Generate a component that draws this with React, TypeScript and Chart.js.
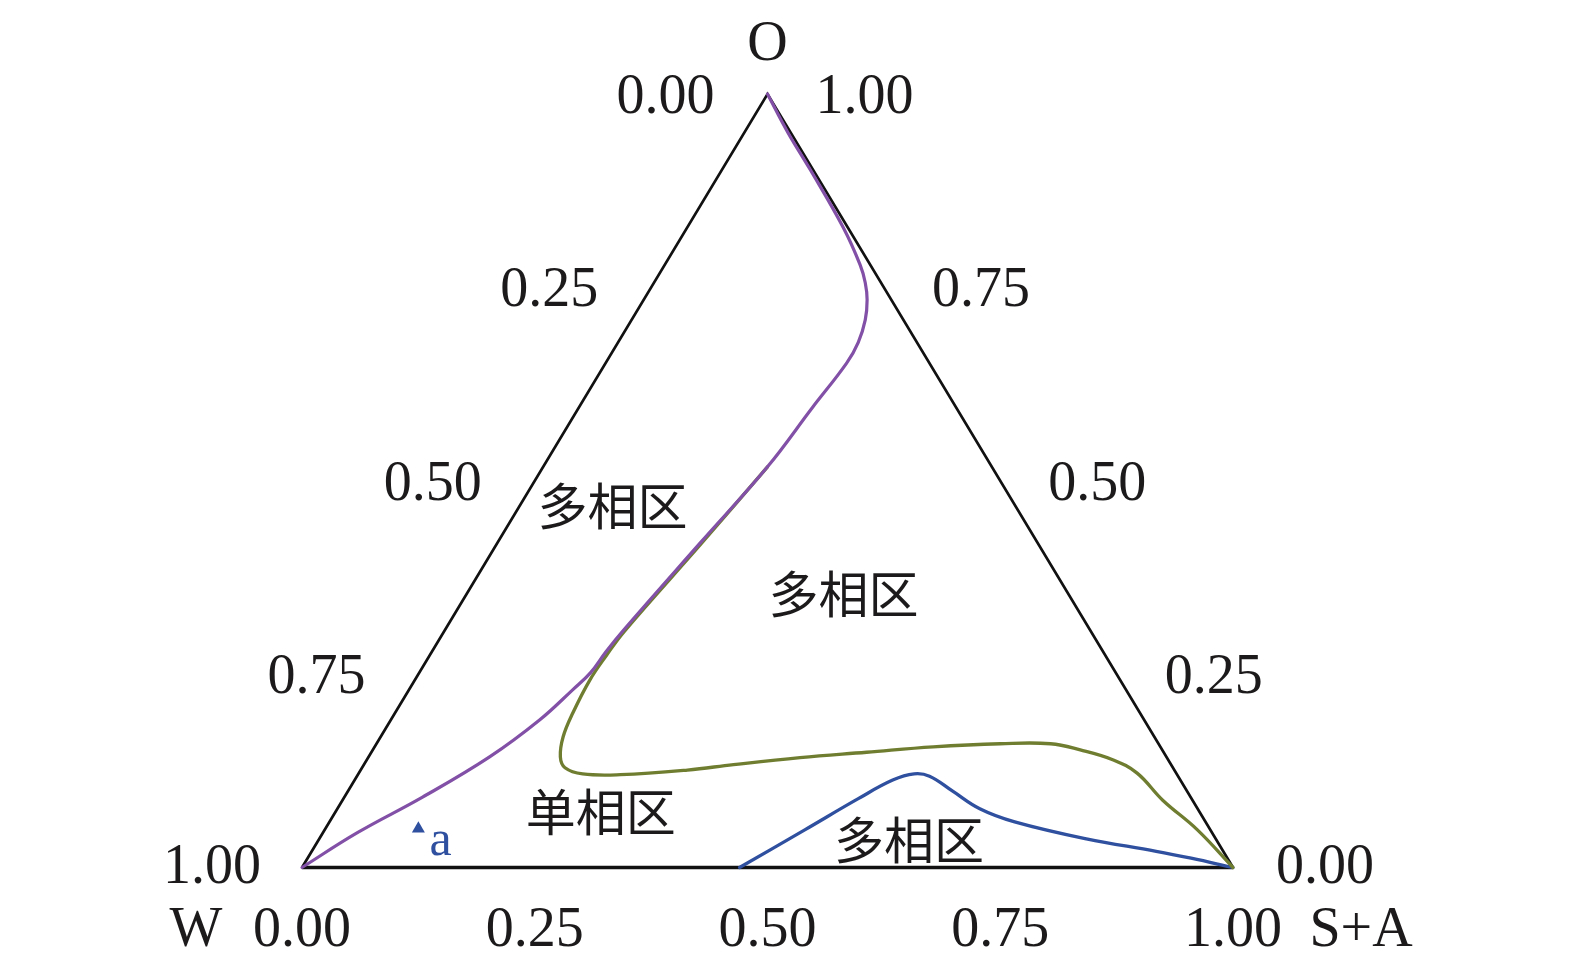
import React, { useEffect, useRef } from 'react';
import { Chart, registerables } from 'chart.js';

Chart.register(...registerables);

// Ternary axis ticks
const tickValues = [0, 0.25, 0.5, 0.75, 1];
const tickLabels = ['0.00', '0.25', '0.50', '0.75', '1.00'];
const vertexLabels = ['W', 'S+A', 'O'];

// Purple boundary (S+A fraction, O fraction), from W corner to O corner
const purpleSA = [0, 0.037, 0.084, 0.13, 0.16, 0.176, 0.184, 0.187, 0.192, 0.218, 0.241, 0.251, 0.259, 0.258, 0.251, 0.24, 0.227, 0.21, 0.168, 0.095, 0.047, 0];
const purpleO = [0, 0.045, 0.091, 0.143, 0.191, 0.23, 0.252, 0.279, 0.307, 0.42, 0.518, 0.595, 0.652, 0.679, 0.708, 0.734, 0.756, 0.779, 0.827, 0.902, 0.95, 1];

// Olive boundary, from S+A corner
const oliveSA = [1, 0.937, 0.881, 0.836, 0.802, 0.76, 0.724, 0.67, 0.6, 0.532, 0.464, 0.397, 0.351, 0.282, 0.241, 0.218, 0.206, 0.196, 0.191, 0.188, 0.19, 0.1935, 0.2195, 0.241];
const oliveO = [0, 0.049, 0.087, 0.122, 0.139, 0.152, 0.16, 0.16, 0.156, 0.149, 0.142, 0.133, 0.126, 0.12, 0.121, 0.129, 0.143, 0.169, 0.2, 0.242, 0.275, 0.305, 0.4185, 0.518];

// Blue boundary, from base to S+A corner
const blueSA = [0.47, 0.516, 0.553, 0.578, 0.597, 0.615, 0.649, 0.69, 0.736, 0.824, 0.907, 0.949, 1];
const blueO = [0, 0.049, 0.089, 0.113, 0.121, 0.118, 0.099, 0.076, 0.059, 0.037, 0.021, 0.012, 0];

// Sample point a
const pointSA = [0.1];
const pointO = [0.05];
const pointNames = ['a'];

// Region labels
const regionNames = ['多相区', '多相区', '单相区', '多相区'];
const regionSA = [0.1, 0.405, 0.285, 0.634];
const regionO = [0.467, 0.353, 0.072, 0.036];

const toXY = (s: number, o: number) => ({ x: s + o / 2, y: o });
const series = (sa: number[], o: number[]) => sa.map((s, i) => toXY(s, o[i]));

const labelPlugin = {
  id: 'ternaryLabels',
  afterDatasetsDraw(chart: any) {
    const { ctx } = chart;
    const xs = chart.scales.x;
    const ys = chart.scales.y;
    const px = (s: number, o: number) => [xs.getPixelForValue(s + o / 2), ys.getPixelForValue(o)];
    ctx.save();
    ctx.fillStyle = '#1c1a1b';
    ctx.font = '56px "Liberation Serif", "Times New Roman", serif';
    ctx.textAlign = 'center';
    ctx.textBaseline = 'alphabetic';
    const dy = 19;
    tickValues.forEach((v, i) => {
      const [bx, by] = px(v, 0);
      ctx.fillText(tickLabels[i], bx, by + 59 + dy);
      const [lx, ly] = px(0, 1 - v);
      ctx.fillText(tickLabels[i], lx - (v === 1 ? 90 : 102), ly + (v === 1 ? -4 : 0) + dy);
      const [rx, ry] = px(1 - v, v);
      ctx.fillText(tickLabels[i], rx + (v === 0 ? 92 : 97), ry + (v === 0 ? -4 : 0) + dy);
    });
    const [wx, wy] = px(0, 0);
    ctx.fillText(vertexLabels[0], wx - 106, wy + 59 + dy);
    const [sx, sy] = px(1, 0);
    ctx.fillText(vertexLabels[1], sx + 128, sy + 59 + dy);
    const [ox, oy] = px(0, 1);
    ctx.fillText(vertexLabels[2], ox, oy - 53 + dy);

    ctx.font = '50px "Noto Sans CJK SC", sans-serif';
    ctx.textBaseline = 'middle';
    regionNames.forEach((t, i) => {
      const [rx, ry] = px(regionSA[i], regionO[i]);
      ctx.fillText(t, rx, ry);
    });

    ctx.fillStyle = '#2f4f9f';
    ctx.font = '50px "Liberation Serif", "Times New Roman", serif';
    ctx.textAlign = 'left';
    ctx.textBaseline = 'alphabetic';
    pointNames.forEach((t, i) => {
      const [ax, ay] = px(pointSA[i], pointO[i]);
      ctx.fillText(t, ax + 11, ay + 26);
    });
    ctx.restore();
  },
};

export default function App() {
  const canvasRef = useRef<HTMLCanvasElement | null>(null);

  useEffect(() => {
    if (!canvasRef.current) return;
    const lineDs = (label: string, data: any[], color: string, width: number, tension: number) => ({
      label,
      data,
      showLine: true,
      borderColor: color,
      backgroundColor: color,
      borderWidth: width,
      pointRadius: 0,
      tension,
      fill: false,
      borderCapStyle: 'round' as const,
      borderJoinStyle: 'round' as const,
      clip: false as const,
    });
    const chart = new Chart(canvasRef.current, {
      type: 'scatter',
      data: {
        datasets: [
          {
            label: 'a',
            data: series(pointSA, pointO),
            pointStyle: 'triangle',
            pointRadius: 7.5,
            backgroundColor: '#2f4f9f',
            borderColor: '#2f4f9f',
            borderWidth: 0,
            showLine: false,
            clip: false as const,
          },
          lineDs('purple', series(purpleSA, purpleO), '#8250a6', 3.2, 0.4),
          lineDs('olive', series(oliveSA, oliveO), '#6f7d30', 3.3, 0.4),
          lineDs('blue', series(blueSA, blueO), '#2f4f9f', 3.3, 0.4),
          { ...lineDs('base', series([0, 1], [0, 0]), '#111111', 3.4, 0), borderCapStyle: 'butt' as const },
          { ...lineDs('sides', series([0, 0, 1], [0, 1, 0]), '#111111', 2.7, 0), borderCapStyle: 'butt' as const, borderJoinStyle: 'miter' as const },
        ],
      },
      options: {
        animation: false,
        responsive: true,
        maintainAspectRatio: false,
        layout: { padding: { left: 302, right: 342, top: 94, bottom: 106.5 } },
        scales: {
          x: { type: 'linear', min: 0, max: 1, display: false },
          y: { type: 'linear', min: 0, max: 1, display: false },
        },
        plugins: {
          legend: { display: false },
          tooltip: { enabled: false },
        },
        events: [],
      },
      plugins: [labelPlugin],
    });
    return () => chart.destroy();
  }, []);

  return (
    <div style={{ position: 'absolute', left: 0, top: 0, width: 1575, height: 974, background: '#ffffff' }}>
      <canvas ref={canvasRef} />
    </div>
  );
}
